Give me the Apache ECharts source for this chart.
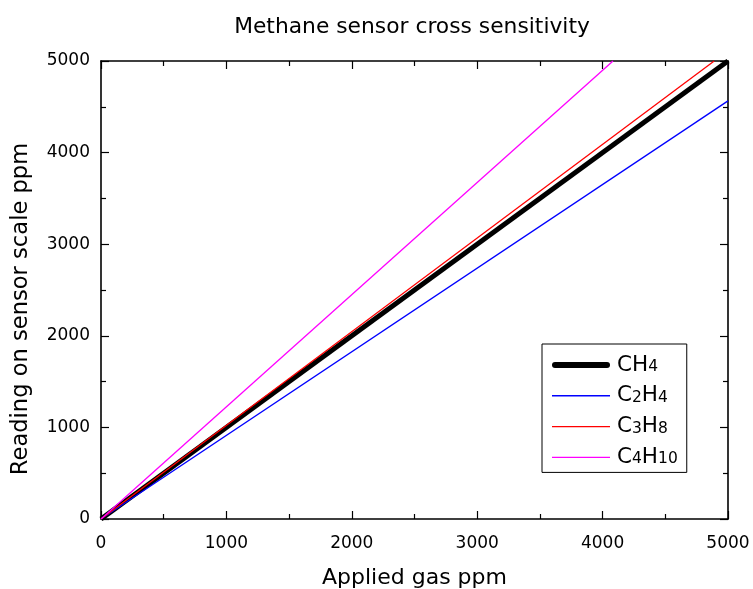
<!DOCTYPE html>
<html><head><meta charset="utf-8">
<script src="https://cdn.jsdelivr.net/npm/echarts@6/dist/echarts.min.js"></script>
<style>html,body{margin:0;padding:0;background:#fff}#c{width:753px;height:589px}</style>
</head><body><div id="c"></div>
<script>
const seriesNames = ['CH4', 'C2H4', 'C3H8', 'C4H10'];
const legendLabels = ['{m|CH}{s|4}', '{m|C}{s|2}{m|H}{s|4}', '{m|C}{s|3}{m|H}{s|8}', '{m|C}{s|4}{m|H}{s|10}'];
const ch4 = [[0, 0], [5000, 5000]];
const c2h4 = [[0, 0], [5000, 4565]];
const c3h8 = [[0, 0], [4890, 5000]];
const c4h10 = [[0, 0], [4083, 5000]];
const xTicks = [0, 1000, 2000, 3000, 4000, 5000];
const yTicks = [0, 1000, 2000, 3000, 4000, 5000];

const font = 'DejaVu Sans, sans-serif';
const chart = echarts.init(document.getElementById('c'));
const axisCommon = {
  min: 0, max: 5000, interval: 1000,
  axisLine: {show: true, onZero: false, lineStyle: {color: '#000', width: 1.6}},
  axisTick: {show: true, inside: true, length: 8, lineStyle: {color: '#000', width: 1.2}},
  minorTick: {show: true, splitNumber: 2, length: 5, lineStyle: {color: '#000', width: 1.2}},
  splitLine: {show: false},
};
const thickIcon = 'path://M0,0M58,18M3,6L55,6A3,3,0,0,1,55,12L3,12A3,3,0,0,1,3,6Z';
const thinIcon = 'path://M0,0M58,18M0,8.3L58,8.3L58,9.7L0,9.7Z';
chart.setOption({
  animation: false,
  backgroundColor: '#fff',
  title: {text: 'Methane sensor cross sensitivity', left: 407, top: 11, textAlign: 'center',
    textStyle: {fontFamily: font, fontSize: 21.8, fontWeight: 'normal', color: '#000'}},
  grid: {left: 101, right: 25, top: 61, bottom: 70, containLabel: false, outerBoundsMode: 'none'},
  legend: {
    orient: 'vertical', left: 542, top: 344,
    padding: [10, 9, 4, 10], itemGap: 8.8, itemWidth: 58, itemHeight: 18,
    borderColor: '#000', borderWidth: 1, backgroundColor: '#fff',
    itemStyle: {borderWidth: 0},
    data: [
      {name: 'CH4', icon: thickIcon},
      {name: 'C2H4', icon: thinIcon},
      {name: 'C3H8', icon: thinIcon},
      {name: 'C4H10', icon: thinIcon}
    ],
    formatter: function (n) { return legendLabels[seriesNames.indexOf(n)]; },
    textStyle: {fontFamily: font, fontSize: 21, color: '#000', padding: [0, 0, 0, 2],
      rich: {
        m: {fontFamily: font, fontSize: 21.5, color: '#000', verticalAlign: 'bottom'},
        s: {fontFamily: font, fontSize: 15.5, color: '#000', verticalAlign: 'bottom', padding: [0, 0, 1, 0]}
      }}
  },
  xAxis: [
    Object.assign({}, axisCommon, {type: 'value', position: 'bottom',
      name: 'Applied gas ppm', nameLocation: 'middle', nameGap: 48,
      nameTextStyle: {fontFamily: font, fontSize: 22, color: '#000'},
      axisLabel: {fontFamily: font, fontSize: 17, color: '#000', margin: 16,
        formatter: function (v) { return xTicks.indexOf(v) >= 0 ? String(v) : ''; }}}),
    Object.assign({}, axisCommon, {type: 'value', position: 'top', axisLabel: {show: false}})
  ],
  yAxis: [
    Object.assign({}, axisCommon, {type: 'value', position: 'left',
      name: 'Reading on sensor scale ppm', nameLocation: 'middle', nameGap: 68,
      nameTextStyle: {fontFamily: font, fontSize: 22.6, color: '#000', padding: [0, 38, 0, 0]},
      axisLabel: {fontFamily: font, fontSize: 17, color: '#000', margin: 11,
        formatter: function (v) { return yTicks.indexOf(v) >= 0 ? String(v) : ''; }}}),
    Object.assign({}, axisCommon, {type: 'value', position: 'right', axisLabel: {show: false}})
  ],
  series: [
    {name: 'CH4', type: 'line', data: ch4, symbol: 'none', z: 3, lineStyle: {color: '#000', width: 5}, itemStyle: {color: '#000'}},
    {name: 'C2H4', type: 'line', data: c2h4, symbol: 'none', lineStyle: {color: '#0000ff', width: 1.3}, itemStyle: {color: '#0000ff'}},
    {name: 'C3H8', type: 'line', data: c3h8, symbol: 'none', lineStyle: {color: '#ff0000', width: 1.3}, itemStyle: {color: '#ff0000'}},
    {name: 'C4H10', type: 'line', data: c4h10, symbol: 'none', lineStyle: {color: '#ff00ff', width: 1.3}, itemStyle: {color: '#ff00ff'}}
  ]
});
</script></body></html>
